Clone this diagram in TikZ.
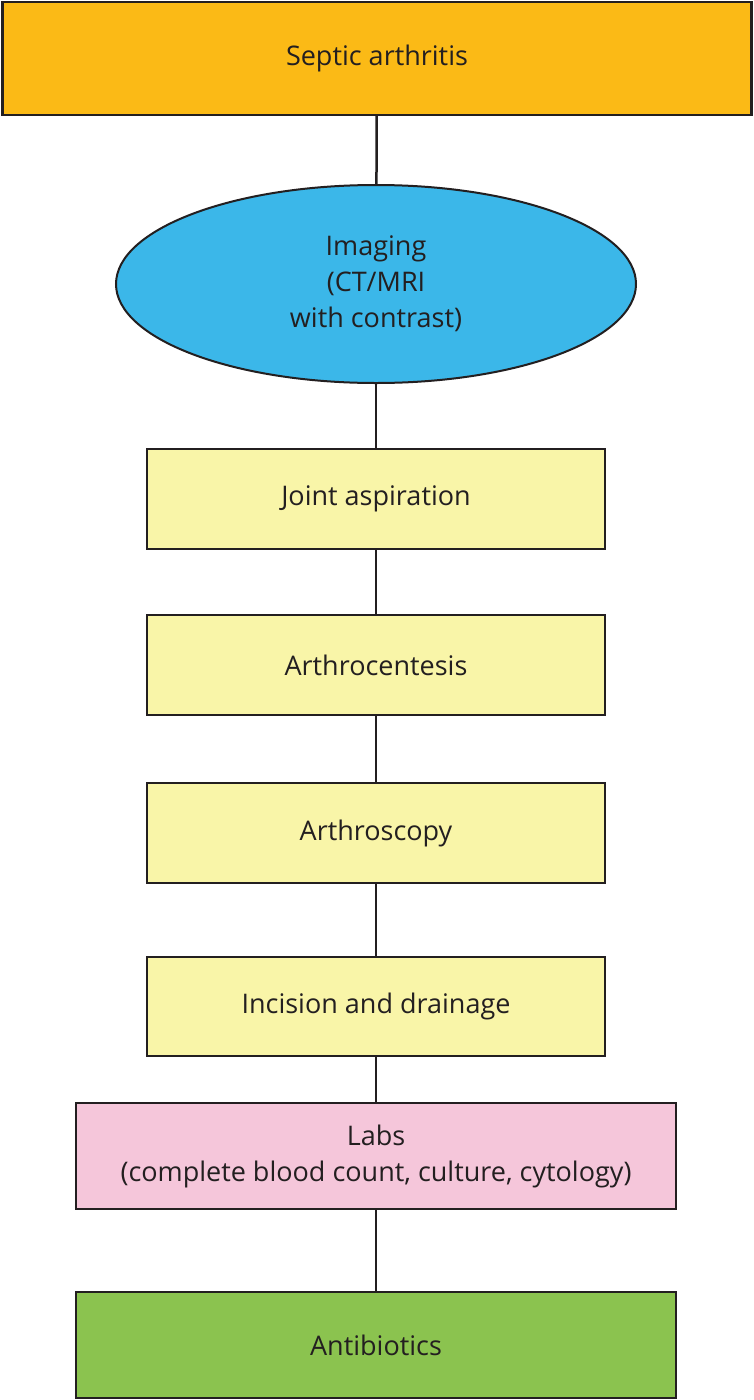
\documentclass[tikz,border=0pt]{standalone}
\usepackage{fontspec}
\setmainfont{Open Sans}
\usetikzlibrary{shapes.geometric}
\definecolor{cOrange}{HTML}{FBBA16}
\definecolor{cBlue}{HTML}{3BB7E9}
\definecolor{cYellow}{HTML}{F9F5A8}
\definecolor{cPink}{HTML}{F5C6DA}
\definecolor{cGreen}{HTML}{8BC34F}
\definecolor{cLine}{HTML}{231F20}
\begin{document}
\begin{tikzpicture}[x=1pt,y=1pt,
  every node/.style={font=\fontsize{27}{36}\selectfont, text=cLine, align=center, inner sep=0pt},
  box/.style={draw=cLine, line width=2.2pt, rectangle, minimum height=100pt},
  smallbox/.style={box, minimum width=458pt, fill=cYellow},
  widebox/.style={box, minimum width=600pt, minimum height=106pt},
  link/.style={draw=cLine, line width=2.5pt}]
\useasboundingbox (0,0) rectangle (754,-1400);
\fill[white] (0,0) rectangle (754,-1400);
\node[box, fill=cOrange, minimum width=749pt, minimum height=113pt] (top) at (377,-58.5) {Septic arthritis};
\node[draw=cLine, line width=2pt, ellipse, fill=cBlue, minimum width=520pt, minimum height=198pt] (img) at (376,-284) {Imaging\\(CT/MRI\\with contrast)};
\node[smallbox] (ja) at (376,-499) {Joint aspiration};
\node[smallbox] (ac) at (376,-665) {Arthrocentesis};
\node[smallbox] (as) at (376,-833) {Arthroscopy};
\node[smallbox, minimum height=99pt] (id) at (376,-1006.5) {Incision and drainage};
\node[widebox, fill=cPink] (labs) at (376,-1156) {Labs\\(complete blood count, culture, cytology)};
\node[widebox, fill=cGreen] (ab) at (376,-1345) {Antibiotics};
\path[link] (top) -- (img);
\path[link] (img) -- (ja);
\path[link] (ja) -- (ac);
\path[link] (ac) -- (as);
\path[link] (as) -- (id);
\path[link] (id) -- (labs);
\path[link] (labs) -- (ab);
\end{tikzpicture}
\end{document}
